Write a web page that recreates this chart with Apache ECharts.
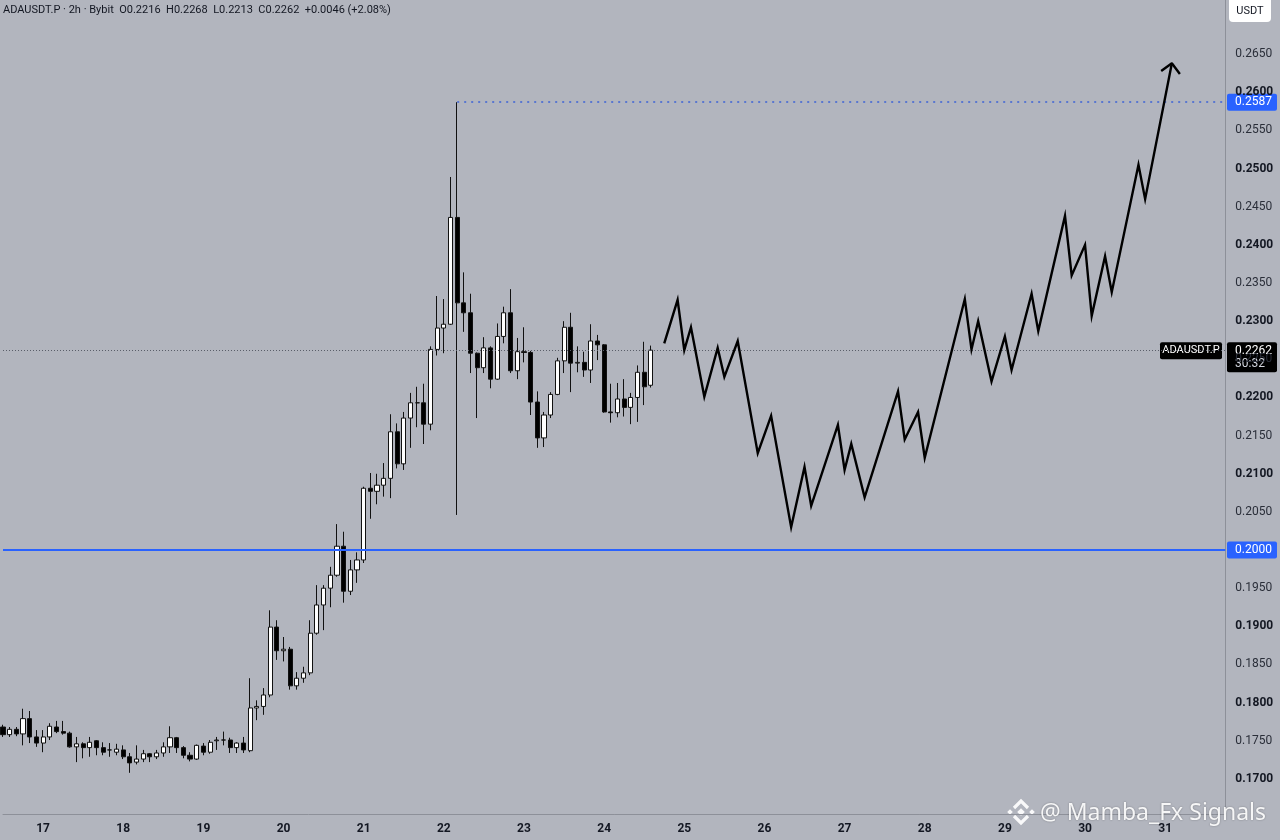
<!DOCTYPE html>
<html><head><meta charset="utf-8">
<script src="https://cdn.jsdelivr.net/npm/echarts@6/dist/echarts.min.js"></script>
<style>html,body{margin:0;padding:0;background:#b2b5be;}#c{width:1280px;height:840px;}</style>
</head><body><div id="c"></div>
<script>
// ---------- data ----------
const dayLabels = ['17','18','19','20','21','22','23','24','25','26','27','28','29','30','31'];
const yTicks = [0.17,0.175,0.18,0.185,0.19,0.195,0.20,0.205,0.21,0.215,0.22,0.225,0.23,0.235,0.24,0.245,0.25,0.255,0.26,0.265];

const candleOpen = [
0.1768,0.1758,0.1765,0.1759,0.1779,0.1755,0.1747,0.1755,0.1768,0.1762,
0.1760,0.1742,0.1746,0.1741,0.1750,0.1741,0.1738,0.1735,0.1738,0.1729,
0.1722,0.1726,0.1733,0.1729,0.1734,0.1742,0.1754,0.1741,0.1731,0.1726,
0.1743,0.1735,0.1750,0.1751,0.1751,0.1741,0.1747,0.1737,0.1793,0.1795,
0.1810,0.1899,0.1868,0.1870,0.1822,0.1832,0.1839,0.1891,0.1928,0.1950,
0.1967,0.2005,0.1946,0.1974,0.1987,0.2081,0.2077,0.2085,0.2094,0.2155,
0.2113,0.2173,0.2193,0.2193,0.2165,0.2263,0.2291,0.2296,0.2436,0.2324,
0.2311,0.2258,0.2239,0.2265,0.2224,0.2280,0.2311,0.2235,0.2260,0.2259,
0.2194,0.2147,0.2177,0.2204,0.2248,0.2292,0.2245,0.2246,0.2236,0.2274,
0.2269,0.2181,0.2180,0.2198,0.2187,0.2200,0.2233,0.2216];
const candleClose = [
0.1758,0.1765,0.1759,0.1779,0.1755,0.1747,0.1755,0.1769,0.1762,0.1760,
0.1742,0.1746,0.1741,0.1748,0.1741,0.1735,0.1738,0.1739,0.1729,0.1721,
0.1726,0.1733,0.1729,0.1734,0.1742,0.1754,0.1741,0.1731,0.1726,0.1744,
0.1735,0.1748,0.1751,0.1751,0.1741,0.1747,0.1738,0.1793,0.1795,0.1810,
0.1899,0.1868,0.1870,0.1822,0.1832,0.1839,0.1891,0.1928,0.1950,0.1967,
0.2005,0.1946,0.1974,0.1987,0.2081,0.2077,0.2085,0.2094,0.2155,0.2113,
0.2173,0.2193,0.2193,0.2165,0.2263,0.2291,0.2296,0.2436,0.2324,0.2311,
0.2258,0.2239,0.2265,0.2224,0.2280,0.2311,0.2235,0.2260,0.2259,0.2194,
0.2147,0.2177,0.2204,0.2248,0.2292,0.2245,0.2246,0.2236,0.2274,0.2269,
0.2181,0.2180,0.2198,0.2187,0.2200,0.2233,0.2214,0.2262];
const candleLow = [
0.1755,0.1755,0.1756,0.1744,0.1747,0.1742,0.1735,0.1751,0.1760,0.1758,
0.1741,0.1722,0.1727,0.1729,0.1731,0.1731,0.1729,0.1731,0.1726,0.1708,
0.1719,0.1722,0.1722,0.1726,0.1729,0.1734,0.1734,0.1727,0.1723,0.1725,
0.1731,0.1733,0.1738,0.1744,0.1734,0.1734,0.1734,0.1735,0.1777,0.1784,
0.1807,0.1856,0.1854,0.1817,0.1817,0.1826,0.1836,0.1889,0.1895,0.1925,
0.1965,0.1931,0.1941,0.1957,0.1983,0.2041,0.2060,0.2070,0.2068,0.2107,
0.2105,0.2134,0.2161,0.2139,0.2157,0.2255,0.2258,0.2295,0.2046,0.2286,
0.2232,0.2173,0.2232,0.2212,0.2223,0.2271,0.2232,0.2224,0.2246,0.2177,
0.2134,0.2135,0.2173,0.2203,0.2232,0.2207,0.2233,0.2227,0.2219,0.2249,
0.2180,0.2167,0.2174,0.2175,0.2165,0.2168,0.2190,0.2213];
const candleHigh = [
0.1771,0.1768,0.1768,0.1792,0.1789,0.1764,0.1764,0.1773,0.1776,0.1776,
0.1762,0.1755,0.1748,0.1755,0.1751,0.1748,0.1747,0.1746,0.1744,0.1734,
0.1744,0.1738,0.1734,0.1738,0.1748,0.1769,0.1755,0.1743,0.1735,0.1745,
0.1747,0.1751,0.1755,0.1762,0.1754,0.1748,0.1755,0.1832,0.1803,0.1819,
0.1921,0.1908,0.1886,0.1873,0.1840,0.1847,0.1908,0.1954,0.1954,0.1978,
0.2034,0.2024,0.1987,0.1997,0.2083,0.2101,0.2100,0.2114,0.2178,0.2166,
0.2181,0.2206,0.2214,0.2218,0.2267,0.2333,0.2329,0.2489,0.2587,0.2364,
0.2336,0.2259,0.2279,0.2267,0.2297,0.2319,0.2342,0.2278,0.2292,0.2261,
0.2208,0.2181,0.2207,0.2252,0.2300,0.2311,0.2267,0.2260,0.2296,0.2282,
0.2270,0.2218,0.2219,0.2224,0.2206,0.2242,0.2273,0.2268];

// hand-drawn projection path (bar index, price)
const forecastX = [99,101,102,103,105,107,108,110,113,115,118,120,121,125,126,127,129,134,135,137,138,144,145,146,148,150,151,154,155,159,160,162,163,165,166,170,171,175];
const forecastY = [0.2271,0.2328,0.2262,0.2292,0.2201,0.2265,0.2227,0.2274,0.2127,0.2176,0.2030,0.2109,0.2058,0.2164,0.2105,0.2139,0.2069,0.2208,0.2145,0.2181,0.2121,0.2329,0.2263,0.2300,0.2221,0.2280,0.2236,0.2336,0.2287,0.2438,0.2360,0.2400,0.2307,0.2385,0.2338,0.2505,0.2460,0.2638];
const arrowX = [173.4,175,176.2];
const arrowY = [0.2628,0.2638,0.2624];

const supportLevel = 0.2000;
const spikeHigh = 0.2587;
const spikeIndex = 68;
const lastPrice = 0.2262;
const countdown = '30:32';
const titleText = 'ADAUSDT.P · 2h · Bybit  O0.2216  H0.2268  L0.2213  C0.2262  +0.0046 (+2.08%)';

// ---------- build ----------
const N = 184;           // bar slots on the time axis (16th 12:00 .. beyond 31st)
const FIRST_DAY_IDX = 6; // index of 17th 00:00
const categories = [];
for (let i = 0; i < N; i++) {
  const h = (i + 6) * 2;
  const day = 16 + Math.floor(h / 24);
  const hh = h % 24;
  categories.push(day + ' ' + String(hh).padStart(2, '0') + ':00');
}
const candleData = candleOpen.map((o, i) => [o, candleClose[i], candleLow[i], candleHigh[i]]);
const forecastData = forecastX.map((x, i) => [x, forecastY[i]]);
const arrowData = arrowX.map((x, i) => [x, arrowY[i]]);

const FONT = 'Roboto, "Liberation Sans", Arial, sans-serif';
const chart = echarts.init(document.getElementById('c'));

const hLine = (v, from, style) => [{ coord: [from, v], lineStyle: style }, { coord: [N - 1, v] }];

const option = {
  animation: false,
  backgroundColor: '#b2b5be',
  grid: { left: 3, right: 54.7, top: 0, bottom: 26, containLabel: false },
  xAxis: [{
    type: 'category',
    data: categories,
    boundaryGap: false,
    axisLine: { show: true, onZero: false, lineStyle: { color: '#8d9099', width: 1 } },
    axisTick: { show: false },
    splitLine: { show: false },
    axisLabel: {
      interval: (idx) => idx >= FIRST_DAY_IDX && (idx - FIRST_DAY_IDX) % 12 === 0,
      formatter: (val, idx) => dayLabels[(idx - FIRST_DAY_IDX) / 12] || '',
      color: '#131722', fontWeight: 'bold', fontSize: 12, fontFamily: FONT, margin: 9
    }
  }, {
    type: 'value', min: 0, max: N - 1, show: false,
    axisLine: { onZero: false }
  }],
  yAxis: [{
    type: 'value',
    position: 'right',
    min: 0.1654, max: 0.2721,
    splitLine: { show: false },
    axisTick: { show: false },
    axisLine: { show: true, onZero: false, lineStyle: { color: '#8d9099', width: 1 } },
    axisLabel: {
      customValues: yTicks,
      margin: 10,
      fontFamily: FONT,
      formatter: (v) => {
        if (Math.abs(v - supportLevel) < 1e-9) return '';
        const s = v.toFixed(4);
        return Math.round(v * 1000) % 10 === 0 ? '{b|' + s + '}' : '{n|' + s + '}';
      },
      rich: {
        b: { fontWeight: 'bold', color: '#131722', fontSize: 12, fontFamily: FONT },
        n: { color: '#2a2e39', fontSize: 12, fontFamily: FONT }
      }
    }
  }],
  series: [{
    type: 'candlestick',
    xAxisIndex: 0, yAxisIndex: 0,
    data: candleData,
    barWidth: 4.6,
    z: 3,
    itemStyle: {
      color: '#ffffff', color0: '#000000',
      borderColor: '#111111', borderColor0: '#111111', borderWidth: 1
    }
  }, {
    type: 'line',
    xAxisIndex: 1, yAxisIndex: 0,
    data: forecastData,
    symbol: 'none',
    z: 5,
    lineStyle: { color: '#000000', width: 2.4, join: 'miter' },
    markLine: {
      silent: true, symbol: ['none', 'none'], label: { show: false }, precision: 4,
      data: [
        hLine(supportLevel, 0, { color: '#2962ff', width: 2, type: 'solid' }),
        hLine(lastPrice, 0, { color: '#5a5e69', width: 1, type: [1, 2] }),
        hLine(spikeHigh, spikeIndex, { color: '#3d63d6', width: 1.5, type: [2, 5] })
      ]
    }
  }, {
    type: 'line',
    xAxisIndex: 1, yAxisIndex: 0,
    data: arrowData,
    symbol: 'none',
    z: 5,
    lineStyle: { color: '#000000', width: 2.4 }
  }],
  graphic: []
};
chart.setOption(option);

// ---------- price-scale badges & overlays ----------
const yOf = (v) => chart.convertToPixel({ yAxisIndex: 0 }, v);
const ySpike = yOf(spikeHigh), ySup = yOf(supportLevel), yLast = yOf(lastPrice);
const AX = 1227;
function badge(y, txt, bg) {
  return {
    type: 'group', z: 100, children: [
      { type: 'rect', shape: { x: AX, y: y - 8.5, width: 50, height: 17, r: 2 }, style: { fill: bg } },
      { type: 'text', x: AX + 8, y: y, style: { text: txt, fill: '#fff', font: '12px ' + FONT, verticalAlign: 'middle' } }
    ]
  };
}
const W = 'rgba(255,255,255,0.92)';
const g = [
  badge(ySpike, spikeHigh.toFixed(4), '#2962ff'),
  badge(ySup, supportLevel.toFixed(4), '#2962ff'),
  { type: 'group', z: 100, children: [
    { type: 'rect', shape: { x: AX, y: yLast - 8, width: 50, height: 30, r: 2 }, style: { fill: '#000' } },
    { type: 'text', x: AX + 8, y: yLast + 1, style: { text: lastPrice.toFixed(4), fill: '#fff', font: '12px ' + FONT, verticalAlign: 'middle' } },
    { type: 'text', x: AX + 8, y: yLast + 14, style: { text: countdown, fill: '#d1d4dc', font: '12px ' + FONT, verticalAlign: 'middle' } }
  ]},
  { type: 'group', z: 100, children: [
    { type: 'rect', shape: { x: 1160, y: yLast - 8, width: 62, height: 17, r: 2 }, style: { fill: '#000' } },
    { type: 'text', x: 1191, y: yLast + 0.5, style: { text: 'ADAUSDT.P', fill: '#fff', font: '11px ' + FONT, align: 'center', verticalAlign: 'middle' } }
  ]},
  { type: 'group', z: 100, children: [
    { type: 'rect', shape: { x: 1229, y: -5, width: 42, height: 27, r: 4 }, style: { fill: '#ffffff' } },
    { type: 'text', x: 1250, y: 11, style: { text: 'USDT', fill: '#131722', font: '11px ' + FONT, align: 'center', verticalAlign: 'middle' } }
  ]},
  { type: 'text', z: 100, x: 3, y: 10, style: { text: titleText, fill: '#131722', font: '11px ' + FONT, verticalAlign: 'middle' } },
  // watermark
  { type: 'group', z: 120, x: 1021, y: 812, children: [
    { type: 'polyline', shape: { points: [[-7,-4],[0,-11],[7,-4]] }, style: { fill: 'none', stroke: W, lineWidth: 3.2 } },
    { type: 'polyline', shape: { points: [[-7,4],[0,11],[7,4]] }, style: { fill: 'none', stroke: W, lineWidth: 3.2 } },
    { type: 'polygon', shape: { points: [[0,-3.8],[3.8,0],[0,3.8],[-3.8,0]] }, style: { fill: W } },
    { type: 'polygon', shape: { points: [[-11,-2.8],[-8.2,0],[-11,2.8],[-13.8,0]] }, style: { fill: W } },
    { type: 'polygon', shape: { points: [[11,-2.8],[13.8,0],[11,2.8],[8.2,0]] }, style: { fill: W } }
  ]},
  { type: 'text', z: 120, x: 1040, y: 813, style: { text: '@ Mamba_Fx Signals', fill: W, font: '23px "Noto Sans", "Open Sans", sans-serif', verticalAlign: 'middle', textShadowColor: 'rgba(0,0,0,0.35)', textShadowBlur: 2 } }
];
chart.setOption({ graphic: g });
</script>
</body></html>
